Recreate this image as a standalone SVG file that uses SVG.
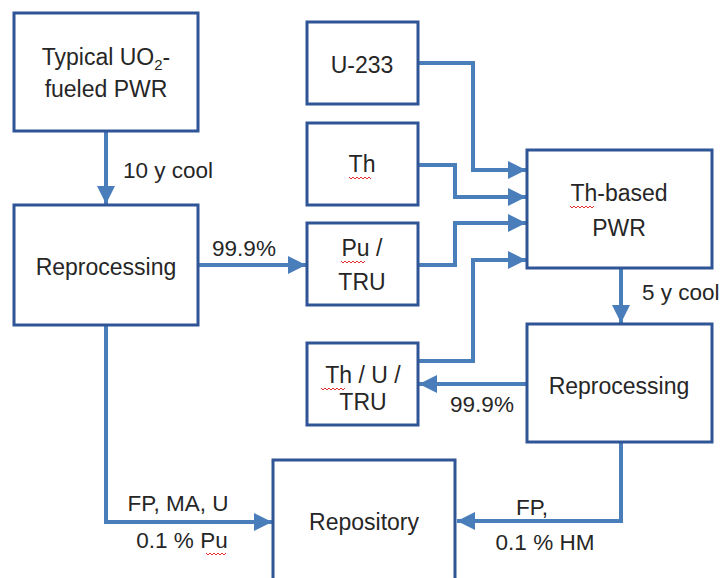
<svg xmlns="http://www.w3.org/2000/svg" width="725" height="578" viewBox="0 0 725 578">
<style>
.box{fill:#fff;stroke:#2f5597;stroke-width:3}
.t{font-family:"Liberation Sans",Arial,sans-serif;font-size:23px;fill:#262626;text-anchor:middle}
.ts{font-family:"Liberation Sans",Arial,sans-serif;font-size:22.5px;fill:#262626}
.c{fill:none;stroke:#4a7ebb;stroke-width:4}
.sq{fill:none;stroke:#e03030;stroke-width:1}
</style>
<defs>
<marker id="ah" markerUnits="userSpaceOnUse" markerWidth="20" markerHeight="20" viewBox="0 0 20 20" refX="18" refY="10" orient="auto">
<path d="M0,1 L18,10 L0,19 Z" fill="#4a7ebb"/>
</marker>
</defs>
<rect width="725" height="578" fill="#fff"/>
<g id="connectors">
<path class="c" d="M106,131 V204" marker-end="url(#ah)"/>
<path class="c" d="M198,265 H306" marker-end="url(#ah)"/>
<path class="c" d="M418,63 H473 V170 H526" marker-end="url(#ah)"/>
<path class="c" d="M418,165 H455 V197 H526" marker-end="url(#ah)"/>
<path class="c" d="M418,265 H455 V223 H526" marker-end="url(#ah)"/>
<path class="c" d="M418,361 H473 V260 H526" marker-end="url(#ah)"/>
<path class="c" d="M621,268 V323" marker-end="url(#ah)"/>
<path class="c" d="M527,384 H419" marker-end="url(#ah)"/>
<path class="c" d="M621,442 V521 H457" marker-end="url(#ah)"/>
<path class="c" d="M106,325 V522 H272" marker-end="url(#ah)"/>
<text class="ts" x="123" y="178">10 y cool</text>
<text class="ts" x="244" y="256" text-anchor="middle">99.9%</text>
<text class="ts" x="642" y="300">5 y cool</text>
<text class="ts" x="482" y="412" text-anchor="middle">99.9%</text>
<text class="ts" x="532" y="515" text-anchor="middle">FP,</text>
<text class="ts" x="545" y="550" text-anchor="middle">0.1 % HM</text>
<text class="ts" x="178" y="511" text-anchor="middle">FP, MA, U</text>
<text class="ts" x="182" y="548" text-anchor="middle">0.1 % Pu</text>
<path class="sq" d="M206,553 l2,2 l2,-2 l2,2 l2,-2 l2,2 l2,-2 l2,2 l2,-2 l2,2 l2,-2"/>
</g>
<g id="pwr">
<rect class="box" x="14" y="13" width="184" height="118"/>
<text class="t" x="106" y="65">Typical UO<tspan font-size="15" dy="5">2</tspan><tspan dy="-5">-</tspan></text>
<text class="t" x="106" y="97">fueled PWR</text>
</g>
<g id="reproc1">
<rect class="box" x="14" y="205" width="184" height="120"/>
<text class="t" x="106" y="275">Reprocessing</text>
</g>
<g id="u233">
<rect class="box" x="307" y="22" width="111" height="82"/>
<text class="t" x="362" y="73">U-233</text>
</g>
<g id="th">
<rect class="box" x="307" y="123" width="111" height="82"/>
<text class="t" x="362" y="172">Th</text>
<path class="sq" d="M349,177 l2,2 l2,-2 l2,2 l2,-2 l2,2 l2,-2 l2,2 l2,-2 l2,2 l2,-2 l2,2"/>
</g>
<g id="putru">
<rect class="box" x="307" y="223" width="111" height="82"/>
<text class="t" x="362" y="256">Pu /</text>
<text class="t" x="362" y="290">TRU</text>
<path class="sq" d="M341,261 l2,2 l2,-2 l2,2 l2,-2 l2,2 l2,-2 l2,2 l2,-2 l2,2 l2,-2 l2,2 l2,-2"/>
</g>
<g id="thpwr">
<rect class="box" x="527" y="150" width="185" height="118"/>
<text class="t" x="619" y="201">Th-based</text>
<text class="t" x="619" y="236">PWR</text>
<path class="sq" d="M570,206 l2,2 l2,-2 l2,2 l2,-2 l2,2 l2,-2 l2,2 l2,-2 l2,2 l2,-2 l2,2 l2,-2"/>
</g>
<g id="thutru">
<rect class="box" x="307" y="343" width="111" height="82"/>
<text class="t" x="363" y="383">Th / U /</text>
<text class="t" x="363" y="410">TRU</text>
<path class="sq" d="M321,388 l2,2 l2,-2 l2,2 l2,-2 l2,2 l2,-2 l2,2 l2,-2 l2,2 l2,-2 l2,2 l2,-2"/>
</g>
<g id="reproc2">
<rect class="box" x="527" y="324" width="185" height="118"/>
<text class="t" x="619" y="394">Reprocessing</text>
</g>
<g id="repository">
<rect class="box" x="273" y="460" width="182" height="130"/>
<text class="t" x="364" y="530">Repository</text>
</g>
</svg>
